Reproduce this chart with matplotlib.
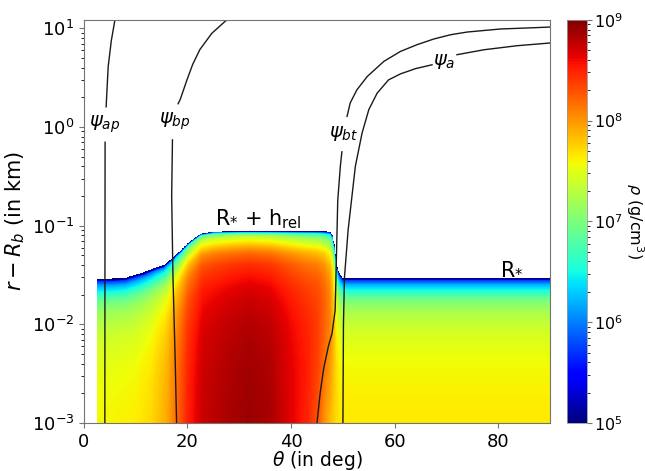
import numpy as np
import matplotlib
matplotlib.use("Agg")
import matplotlib.pyplot as plt
from matplotlib.colors import LogNorm

# surface height r-R_b [km] vs theta [deg]
surf_theta = [2.5, 5.0, 8.0, 9.7, 11.5, 13.5, 15.5, 16.9, 18.7, 20.6, 22.6, 25.0, 30.0, 46.0, 47.5, 48.0, 48.4, 48.8, 49.3, 50.0, 90.0]
surf_h     = [0.0289, 0.029, 0.0296, 0.0315, 0.0335, 0.037, 0.040, 0.046, 0.056, 0.070, 0.083, 0.087, 0.088, 0.088, 0.087, 0.080, 0.060, 0.040, 0.033, 0.0295, 0.0295]

# log10 density [g/cm^3] at the bottom (1e-3 km) and at 0.03 km
rho_theta  = [2.5, 6, 10, 13, 16, 18, 20, 23, 28, 32, 36, 40, 43, 45, 46.5, 47.5, 48.5, 49.5, 52, 90]
rho_bottom = [7.58, 7.60, 7.63, 7.72, 7.92, 8.20, 8.50, 8.75, 8.85, 8.90, 8.85, 8.65, 8.50, 8.30, 8.00, 7.85, 7.72, 7.66, 7.65, 7.65]
rho_upper  = [7.58, 7.60, 7.63, 7.72, 7.92, 8.20, 8.50, 8.75, 8.85, 8.90, 8.85, 8.70, 8.60, 8.55, 8.45, 8.30, 7.90, 7.66, 7.65, 7.65]

# drop of log10 density towards the surface vs fractional depth
depth_frac = [0.0, 0.02, 0.06, 0.15, 0.27, 0.40, 0.55, 0.75, 0.90, 1.0]
depth_dlog = [-4.0, -2.8, -1.9, -1.45, -1.1, -0.72, -0.45, -0.22, -0.08, 0.0]

# field lines (nan = gap for the label)
nan = np.nan
psi_ap_th = [4.05, 4.08, 4.10, nan, 4.3, 4.7, 5.3, 6.0]
psi_ap_r  = [1e-3, 0.1, 0.7, nan, 1.6, 4.1, 7.5, 12.2]
psi_bp_th = [17.9, 17.6, 17.2, 16.95, 17.1, nan, 18.2, 18.6, 19.9, 21.0, 22.4, 24.7, 27.6]
psi_bp_r  = [1e-3, 0.005, 0.03, 0.2, 0.74, nan, 1.72, 1.9, 3.0, 4.3, 6.1, 8.9, 12.2]
psi_bt_th = [45.0, 45.6, 46.3, 47.2, 47.9, 48.5, 48.7, 49.0, 49.5, 49.8, nan,
             50.8, 51.4, 52.7, 54.7, 57.9, 61.1, 64.3, 67.5, 70.8, 74.0, 80.4, 86.9, 90.0]
psi_bt_r  = [1e-3, 0.002, 0.0036, 0.006, 0.0081, 0.0139, 0.038, 0.18, 0.4, 0.56, nan,
             1.28, 1.75, 2.38, 3.25, 4.62, 5.83, 6.82, 7.78, 8.61, 9.17, 9.84, 10.14, 10.3]
psi_a_th  = [50.0, 50.1, 50.3, 51.0, 52.4, 53.7, 55.0, 56.6, 58.8, 61.1, 64.0, 67.2, nan,
             72.0, 77.2, 83.6, 90.0]
psi_a_r   = [1e-3, 0.01, 0.03, 0.09, 0.4, 0.87, 1.5, 2.2, 3.0, 3.45, 3.9, 4.27, nan,
             5.4, 6.06, 6.66, 7.1]

# density grid
th_e = np.linspace(2.5, 90, 701)
r_e = np.logspace(-3, -1, 901)
th = 0.5*(th_e[1:] + th_e[:-1])
r = np.sqrt(r_e[1:]*r_e[:-1])
TH, R = np.meshgrid(th, r)

H = np.interp(TH, surf_theta, surf_h)
w = np.clip((np.log10(R) + 3)/(np.log10(0.03) + 3), 0, 1)
base = (1 - w)*np.interp(TH, rho_theta, rho_bottom) + w*np.interp(TH, rho_theta, rho_upper)
frac = np.clip((H - R)/(H - 1e-3), 0, 1)
logrho = base + np.interp(frac, depth_frac, depth_dlog)
rho = np.ma.masked_where(R >= H, 10**logrho)

fig = plt.figure(figsize=(6.45, 4.71), dpi=100)
ax = fig.add_axes([0.130, 0.102, 0.723, 0.856])
cax = fig.add_axes([0.879, 0.102, 0.031, 0.856])

mesh = ax.pcolormesh(th_e, r_e, rho, cmap='jet', norm=LogNorm(1e5, 1e9), shading='flat')

ax.plot(psi_ap_th, psi_ap_r, color='0.1', lw=1.0)
ax.plot(psi_bp_th, psi_bp_r, color='0.1', lw=1.0)
ax.plot(psi_bt_th, psi_bt_r, color='0.1', lw=1.0)
ax.plot(psi_a_th, psi_a_r, color='0.1', lw=1.0)

ax.text(4.06, 1.06, r'$\psi_{ap}$', fontsize=14, ha='center', va='center')
ax.text(17.6, 1.13, r'$\psi_{bp}$', fontsize=14, ha='center', va='center')
ax.text(50.1, 0.85, r'$\psi_{bt}$', fontsize=14, ha='center', va='center')
ax.text(69.6, 4.64, r'$\psi_{a}$', fontsize=14, ha='center', va='center')

ax.text(25.3, 0.1, r'R$_{*}$ + h$_{\rm rel}$', fontsize=15, ha='left', va='baseline')
ax.text(80.4, 0.0325, r'R$_{*}$', fontsize=15, ha='left', va='baseline')

ax.set_yscale('log')
ax.set_xlim(0, 90)
ax.set_ylim(1e-3, 12.2)
ax.set_xticks([0, 20, 40, 60, 80])
ax.tick_params(labelsize=13, color='0.45')
for s in ax.spines.values():
    s.set_color('0.45')
ax.set_xlabel(r'$\theta$ (in deg)', fontsize=13.5, labelpad=-1)
ax.set_ylabel(r'$r - R_b$ (in km)', fontsize=15, labelpad=3)

cb = fig.colorbar(mesh, cax=cax)
cb.outline.set_edgecolor('0.6')
cb.outline.set_linewidth(0.6)
cax.tick_params(labelsize=11.5, color='0.45', pad=1.5)
cb.set_label(r'$\rho$ (g/cm$^3$)', fontsize=11.5, rotation=270)
cax.yaxis.label.set_verticalalignment('center')
cax.yaxis.set_label_coords(3.38, 0.5)

fig.savefig('out.png', dpi=100)
